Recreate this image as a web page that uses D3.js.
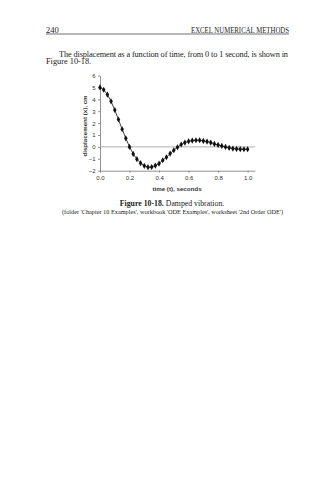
<!DOCTYPE html>
<html><head><meta charset="utf-8">
<script src="https://cdn.jsdelivr.net/npm/d3@7"></script>
<style>html,body{margin:0;padding:0;background:#fff;}svg{display:block;}</style>
</head><body>
<script>
const times = d3.range(0, 41).map(i => i * 0.025);
const displacement = [5.0, 4.8, 4.4, 3.83, 3.1, 2.3, 1.48, 0.72, 0.0, -0.59, -1.03, -1.37, -1.59, -1.70, -1.69, -1.57,
  -1.40, -1.12, -0.87, -0.56, -0.28, -0.03, 0.2, 0.36, 0.47, 0.53, 0.56, 0.56, 0.5, 0.45, 0.36, 0.25, 0.17, 0.08,
  0.0, -0.08, -0.14, -0.17, -0.19, -0.2, -0.2];
const xTicks = [0, 0.2, 0.4, 0.6, 0.8, 1.0];
const yTicks = [-2, -1, 0, 1, 2, 3, 4, 5, 6];

const W = 335, H = 480;
const svg = d3.select("body").append("svg").attr("width", W).attr("height", H);
const serif = "'Liberation Serif','Times New Roman',serif";
const sans = "'Liberation Sans',Arial,sans-serif";

// page header
svg.append("text").attr("x", 46).attr("y", 32.5).attr("font-family", serif).attr("font-size", 8.5).attr("fill", "#222").text("240");
svg.append("text").attr("x", 289).attr("y", 32.5).attr("text-anchor", "end").attr("font-family", serif).attr("fill", "#222")
  .attr("font-size", 8.5).attr("textLength", 98).attr("lengthAdjust", "spacingAndGlyphs").text("EXCEL NUMERICAL METHODS");
svg.append("line").attr("x1", 46).attr("x2", 289).attr("y1", 34).attr("y2", 34).attr("stroke", "#333").attr("stroke-width", 0.7);

// paragraph
svg.append("text").attr("x", 59).attr("y", 56.5).attr("font-family", serif).attr("font-size", 8.3).attr("fill", "#222")
  .attr("textLength", 229).attr("lengthAdjust", "spacing")
  .text("The displacement as a function of time, from 0 to 1 second, is shown in");
svg.append("text").attr("x", 46).attr("y", 64).attr("font-family", serif).attr("font-size", 8.3).attr("fill", "#222").text("Figure 10-18.");

// chart
const x = d3.scaleLinear().domain([0, 1.05]).range([100, 255]);
const y = d3.scaleLinear().domain([-2, 6]).range([170.7, 75.5]);

// zero line
svg.append("line").attr("x1", x(0)).attr("x2", x(1.05)).attr("y1", y(0)).attr("y2", y(0))
  .attr("stroke", "#999").attr("stroke-width", 0.8);

const xAxis = svg.append("g").attr("transform", `translate(0,${y(-2)})`)
  .call(d3.axisBottom(x).tickValues(xTicks).tickFormat(d3.format(".1f")).tickSize(2).tickSizeOuter(0));
const yAxis = svg.append("g").attr("transform", `translate(${x(0)},0)`)
  .call(d3.axisLeft(y).tickValues(yTicks).tickFormat(d3.format("d")).tickSize(2).tickSizeOuter(0));
[xAxis, yAxis].forEach(g => {
  g.select(".domain").attr("stroke", "#777").attr("stroke-width", 0.8);
  g.selectAll(".tick line").attr("stroke", "#777").attr("stroke-width", 0.8);
  g.selectAll("text").attr("font-family", sans).attr("font-size", 6).attr("fill", "#333");
});
xAxis.selectAll("text").attr("dy", "0.71em").attr("y", 5.5);
yAxis.selectAll("text").attr("x", -4.5);

// axis titles
svg.append("text").attr("x", 177).attr("y", 191).attr("text-anchor", "middle").attr("font-family", sans)
  .attr("font-size", 6.2).attr("font-weight", "bold").attr("fill", "#333").text("time (t), seconds");
svg.append("text").attr("transform", "translate(86.5,126) rotate(-90)").attr("text-anchor", "middle")
  .attr("font-family", sans).attr("font-size", 6.2).attr("font-weight", "bold").attr("fill", "#333")
  .text("displacement (x), cm");

// series
const pts = times.map((t, i) => [t, displacement[i]]);
svg.append("path").datum(pts).attr("fill", "none").attr("stroke", "#111").attr("stroke-width", 0.8)
  .attr("d", d3.line().x(d => x(d[0])).y(d => y(d[1])));
svg.append("g").selectAll("path").data(pts).join("path")
  .attr("transform", d => `translate(${x(d[0])},${y(d[1])})`)
  .attr("d", d3.symbol(d3.symbolDiamond, 11)).attr("fill", "#111");

// caption
const cap = svg.append("text").attr("x", 172).attr("y", 206).attr("text-anchor", "middle")
  .attr("font-family", serif).attr("font-size", 7.8).attr("fill", "#222");
cap.append("tspan").attr("font-weight", "bold").text("Figure 10-18.");
cap.append("tspan").text("  Damped vibration.");
svg.append("text").attr("x", 62).attr("y", 213.5).attr("font-family", serif).attr("font-size", 6.2).attr("fill", "#222")
  .attr("textLength", 221).attr("lengthAdjust", "spacingAndGlyphs")
  .text("(folder 'Chapter 10 Examples', workbook 'ODE Examples', worksheet '2nd Order ODE')");
</script>
</body></html>
